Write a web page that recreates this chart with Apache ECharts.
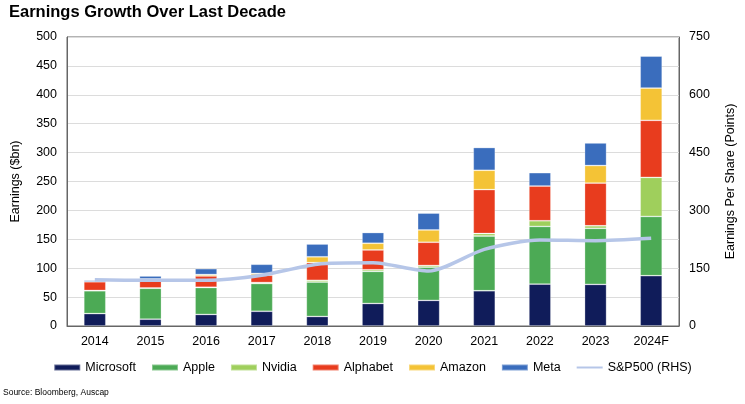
<!DOCTYPE html>
<html>
<head>
<meta charset="utf-8">
<script src="https://cdn.jsdelivr.net/npm/echarts@6/dist/echarts.min.js"></script>
<style>
html,body{margin:0;padding:0;background:#fff;}
#chart{width:745px;height:404px;}
</style>
</head>
<body>
<div id="chart"></div>
<script>
var categories = ['2014','2015','2016','2017','2018','2019','2020','2021','2022','2023','2024F'];
var microsoft = [21.5, 11.8, 20, 25.5, 16.5, 39, 44.3, 61, 72.5, 72, 87];
var apple     = [39.5, 53.5, 46.5, 48, 59.5, 55.5, 57.5, 94.7, 99.8, 97, 102.6];
var nvidia    = [0.5, 0.6, 0.6, 1.7, 3, 2.8, 2.8, 4.3, 9.8, 4.4, 67.5];
var alphabet  = [15, 15, 19.5, 12.7, 30.7, 34.3, 40.3, 76, 60, 73.8, 98.7];
var amazon    = [-0.2, 0.6, 2.4, 3, 10, 11.6, 21.3, 33.4, -2.7, 30.4, 55.8];
var meta      = [2.5, 5, 10.2, 15.9, 22.1, 18.5, 29.1, 39.4, 23.2, 39.1, 55.3];
var sp500     = [120, 118.5, 118.5, 131.5, 160.5, 164, 142.5, 199, 223.5, 221.5, 227.5];

var font = 'Liberation Sans, Arial, sans-serif';
var chart = echarts.init(document.getElementById('chart'), null, {renderer:'canvas'});

function barSeries(name, data, color){
  return {
    name: name, type: 'bar', stack: 'total', data: data, barWidth: 22,
    itemStyle: {color: color, borderColor: 'rgba(255,255,255,0.35)', borderWidth: 0.8},
    emphasis: {disabled: true}
  };
}

chart.setOption({
  animation: false,
  textStyle: {fontFamily: font},
  title: [
    {text: 'Earnings Growth Over Last Decade', left: 9, top: 4, padding: 0,
     textStyle: {fontFamily: font, fontSize: 16.5, fontWeight: 'bold', color: '#000'}},
    {text: 'Source: Bloomberg, Auscap', left: 3, top: 388, padding: 0,
     textStyle: {fontFamily: font, fontSize: 8.5, fontWeight: 'normal', color: '#000'}}
  ],
  legend: {
    left: 'center', top: 356, itemWidth: 26, itemHeight: 6, itemGap: 15,
    textStyle: {fontFamily: font, fontSize: 12.5, color: '#000'},
    data: [
      {name:'Microsoft', icon:'rect'},
      {name:'Apple', icon:'rect'},
      {name:'Nvidia', icon:'rect'},
      {name:'Alphabet', icon:'rect'},
      {name:'Amazon', icon:'rect'},
      {name:'Meta', icon:'rect'},
      {name:'S&P500 (RHS)', itemStyle: {opacity: 0}}
    ]
  },
  grid: {left: 67, right: 66, top: 37, bottom: 78, show: true, borderColor: '#666', borderWidth: 1},
  xAxis: {
    type: 'category', data: categories,
    axisLine: {lineStyle: {color: '#666', width: 1}},
    axisTick: {show: false},
    axisLabel: {color: '#000', fontSize: 12.5, fontFamily: font, margin: 9}
  },
  yAxis: [
    {
      type: 'value', min: 0, max: 500, interval: 50,
      name: 'Earnings ($bn)', nameLocation: 'middle', nameGap: 45, nameRotate: 90,
      nameTextStyle: {color: '#000', fontSize: 12.5, fontFamily: font},
      axisLine: {show: true, lineStyle: {color: '#666'}},
      axisTick: {show: false},
      axisLabel: {color: '#000', fontSize: 12.5, fontFamily: font, margin: 10},
      splitLine: {show: true, lineStyle: {color: '#dcdcdc', width: 1}}
    },
    {
      type: 'value', min: 0, max: 750, interval: 150, position: 'right',
      name: 'Earnings Per Share (Points)', nameLocation: 'middle', nameGap: 45, nameRotate: 90,
      nameTextStyle: {color: '#000', fontSize: 12.5, fontFamily: font},
      axisLine: {show: true, lineStyle: {color: '#666'}},
      axisTick: {show: false},
      axisLabel: {color: '#000', fontSize: 12.5, fontFamily: font, margin: 10},
      splitLine: {show: false}
    }
  ],
  series: [
    barSeries('Microsoft', microsoft, '#101c5a'),
    barSeries('Apple', apple, '#4caa55'),
    barSeries('Nvidia', nvidia, '#9fcf5c'),
    barSeries('Alphabet', alphabet, '#e83c1e'),
    barSeries('Amazon', amazon, '#f4c336'),
    barSeries('Meta', meta, '#3a6dbd'),
    {
      name: 'S&P500 (RHS)', type: 'line', yAxisIndex: 1, data: sp500,
      symbol: 'none', smooth: 0.25, z: 10,
      lineStyle: {color: '#b6c6e8', width: 3.5},
      itemStyle: {color: '#b6c6e8'},
      emphasis: {disabled: true}
    }
  ]
});
</script>
</body>
</html>
